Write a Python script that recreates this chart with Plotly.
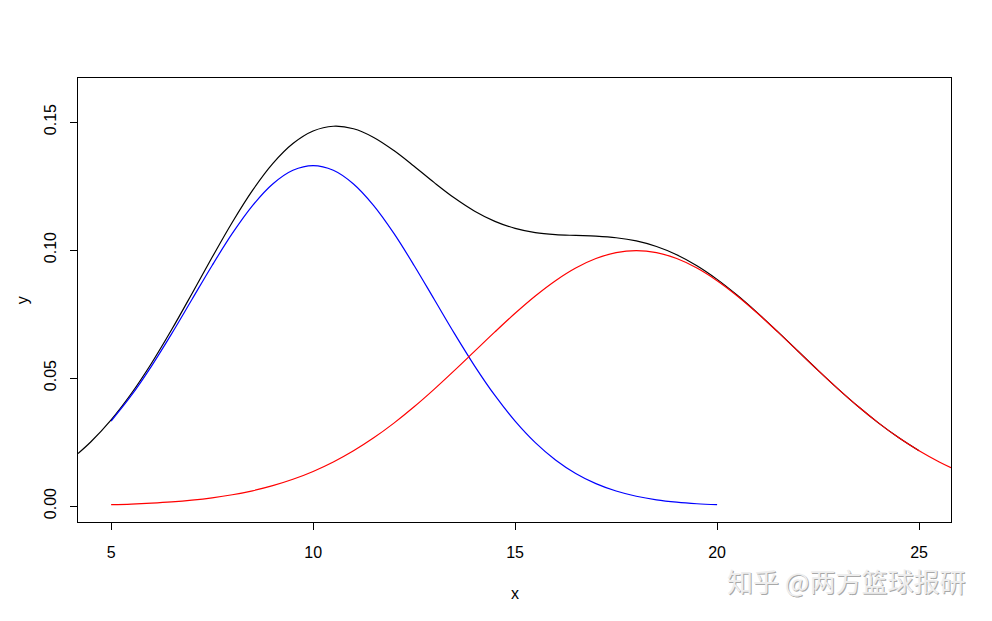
import plotly.graph_objects as go

# ---- data ----
blue_x = [5, 5.5, 6, 6.5, 7, 7.5, 8, 8.5, 9, 9.5, 10, 10.5, 11, 11.5, 12, 12.5, 13, 13.5,
          14, 14.5, 15, 15.5, 16, 16.5, 17, 17.5, 18, 18.5, 19, 19.5, 20]
blue_y = [0.03317, 0.04318, 0.05467, 0.06733, 0.08066, 0.09397, 0.10648, 0.11735, 0.12580,
          0.13115, 0.13298, 0.13115, 0.12580, 0.11735, 0.10648, 0.09397, 0.08066, 0.06733,
          0.05467, 0.04318, 0.03317, 0.02477, 0.01800, 0.01272, 0.00874, 0.00584, 0.00380,
          0.00240, 0.00148, 0.00088, 0.00051]

red_x = [5, 5.5, 6, 6.5, 7, 7.5, 8, 8.5, 9, 9.5, 10, 10.5, 11, 11.5, 12, 12.5, 13, 13.5,
         14, 14.5, 15, 15.5, 16, 16.5, 17, 17.5, 18, 18.5, 19, 19.5, 20, 20.5, 21, 21.5,
         22, 22.5, 23, 23.5, 24, 24.5, 25, 25.5, 25.79]
red_y = [0.000507, 0.000755, 0.001108, 0.001599, 0.002273, 0.003181, 0.004382, 0.005941,
         0.007935, 0.010431, 0.013498, 0.017196, 0.021571, 0.026636, 0.032381, 0.038755,
         0.045664, 0.052972, 0.060496, 0.068016, 0.075288, 0.082044, 0.088020, 0.092968,
         0.096671, 0.098964, 0.099736, 0.098964, 0.096671, 0.092968, 0.088020, 0.082044,
         0.075288, 0.068016, 0.060496, 0.052972, 0.045664, 0.038755, 0.032381, 0.026636,
         0.021571, 0.017196, 0.014976]

black_x = [4.18, 4.5, 5, 5.5, 6, 6.5, 7, 7.5, 8, 8.5, 9, 9.5, 10, 10.5, 11, 11.5, 12, 12.5,
           13, 13.5, 14, 14.5, 15, 15.5, 16, 16.5, 17, 17.5, 18, 18.5, 19, 19.5, 20, 20.5,
           21, 21.5, 22, 22.5, 23, 23.5, 24, 24.5, 25]
black_y = [0.02052, 0.02511, 0.03368, 0.04394, 0.05578, 0.06893, 0.08293, 0.09715, 0.11086,
           0.12329, 0.13374, 0.14158, 0.14648, 0.14835, 0.14737, 0.14399, 0.13886, 0.13273,
           0.12632, 0.12030, 0.11517, 0.11120, 0.10846, 0.10681, 0.10602, 0.10569, 0.10541,
           0.10480, 0.10354, 0.10136, 0.09815, 0.09385, 0.08853, 0.08233, 0.07545, 0.06811,
           0.06054, 0.05299, 0.04567, 0.03876, 0.03238, 0.02664, 0.02157]

x_ticks = [5, 10, 15, 20, 25]
y_ticks = [0.00, 0.05, 0.10, 0.15]
y_tick_labels = ["0.00", "0.05", "0.10", "0.15"]

FONT = "Liberation Sans, Arial, Helvetica, sans-serif"

fig = go.Figure()
fig.add_trace(go.Scatter(x=black_x, y=black_y, mode="lines", line=dict(color="#000000", width=1.2, shape="spline", smoothing=1)))
fig.add_trace(go.Scatter(x=blue_x, y=blue_y, mode="lines", line=dict(color="#0000FF", width=1.2, shape="spline", smoothing=1)))
fig.add_trace(go.Scatter(x=red_x, y=red_y, mode="lines", line=dict(color="#FF0000", width=1.2, shape="spline", smoothing=1)))

# page has an 8px body margin: figure placed at (8, 8)
fig.update_layout(
    width=984, height=613,
    margin=dict(l=70, r=41, t=70, b=99),
    paper_bgcolor="white", plot_bgcolor="white",
    showlegend=False,
    font=dict(family=FONT, size=16, color="black"),
)
fig.update_xaxes(
    range=[4.18, 25.79], tickvals=x_ticks, ticks="outside", ticklen=7, tickwidth=1,
    tickcolor="black", showline=True, linecolor="black", linewidth=1, mirror=True,
    showgrid=False, zeroline=False, ticklabelstandoff=9,
)
fig.update_yaxes(
    range=[-0.00625, 0.1672], tickvals=y_ticks, ticktext=y_tick_labels, ticks="outside",
    ticklen=7, tickwidth=1, tickcolor="black", showline=True, linecolor="black", linewidth=1,
    mirror=True, showgrid=False, zeroline=False, tickangle=-90, ticklabelstandoff=8,
)
fig.add_annotation(text="x", xref="paper", yref="paper", x=0.5, y=-0.16, showarrow=False,
                   font=dict(family=FONT, size=16), yanchor="middle")
fig.add_annotation(text="y", xref="paper", yref="paper", x=-0.064, y=0.5, showarrow=False,
                   font=dict(family=FONT, size=16), textangle=-90, xanchor="center")
# watermark
fig.add_annotation(text="知乎 @两方篮球报研", xref="paper", yref="paper", x=1.019, y=-0.133,
                   xanchor="right", yanchor="middle", showarrow=False,
                   font=dict(family="Noto Sans CJK SC", size=26, color="#a8a8a8"))
fig.add_annotation(text="知乎 @两方篮球报研", xref="paper", yref="paper", x=1.018, y=-0.131,
                   xanchor="right", yanchor="middle", showarrow=False,
                   font=dict(family="Noto Sans CJK SC", size=26, color="#eeeeee"))

fig.write_html("out.html")
